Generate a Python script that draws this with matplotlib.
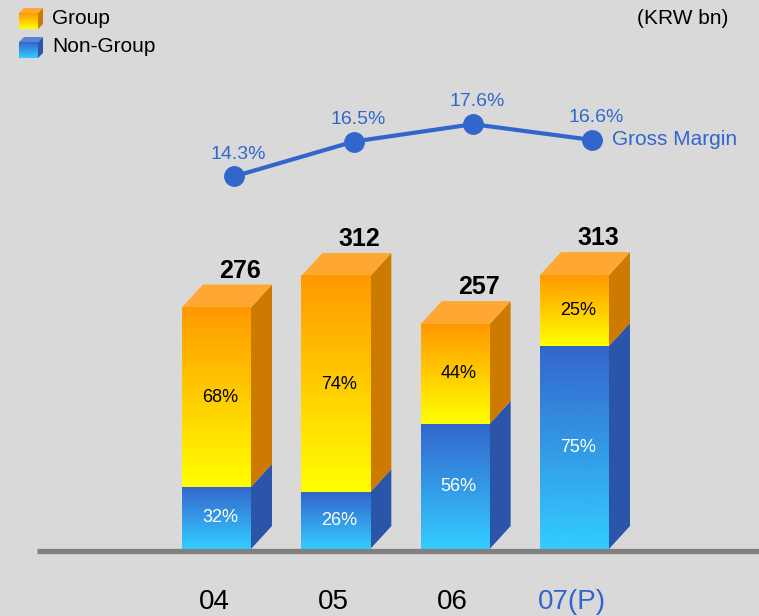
import numpy as np
import matplotlib
matplotlib.use("Agg")
import matplotlib.pyplot as plt
from matplotlib.patches import Polygon
from matplotlib.colors import to_rgb

plt.rcParams['font.family'] = ['Liberation Sans', 'DejaVu Sans']

# data
years = ['04', '05', '06', '07(P)']
totals = [276, 312, 257, 313]              # KRW bn
non_group = [71, 65, 143, 232]             # drawn height of Non-Group part
group_pct = ['68%', '74%', '44%', '25%']
non_group_pct = ['32%', '26%', '56%', '75%']
gross_margin = [14.3, 16.5, 17.6, 16.6]

BG = '#d9d9d9'
ORANGE_TOP, ORANGE_BOT = '#ff9900', '#ffff00'
BLUE_TOP, BLUE_BOT = '#3366cc', '#33ccff'
ORANGE_SIDE, ORANGE_LID = '#cc7a00', '#ffa733'
BLUE_SIDE = '#2b55a8'
LINE_BLUE = '#3366cc'

W, H = 759, 616
fig = plt.figure(figsize=(W / 100, H / 100), dpi=100, facecolor=BG)
ax = fig.add_axes([0, 0, 1, 1])
ax.set_facecolor(BG)

# pixel scale of the original: bar spacing 119.3 px, 0.875 px per KRW bn
XPX, YPX = 119.33, 0.875
XLIM = (-216.5 / XPX, (W - 216.5) / XPX)
YLIM = (-(H - 549) / YPX, 549 / YPX)
bar_w = 69 / XPX
dx, dy = 21 / XPX, 23 / YPX


def gradient(ax, x0, x1, y0, y1, c_bot, c_top, z):
    t = np.linspace(0, 1, 64)[:, None, None]
    img = (1 - t) * np.array(to_rgb(c_bot)) + t * np.array(to_rgb(c_top))
    ax.imshow(img, extent=[x0, x1, y0, y1], origin='lower', aspect='auto',
              interpolation='bilinear', zorder=z)


def cube(ax, x0, x1, y0, y1, ddx, ddy, c_bot, c_top, side, lid=None, z=3):
    ax.add_patch(Polygon([(x1, y0), (x1 + ddx, y0 + ddy), (x1 + ddx, y1 + ddy), (x1, y1)],
                         closed=True, facecolor=side, lw=0, zorder=z))
    if lid is not None:
        ax.add_patch(Polygon([(x0, y1), (x0 + ddx, y1 + ddy), (x1 + ddx, y1 + ddy), (x1, y1)],
                             closed=True, facecolor=lid, lw=0, zorder=z))
    gradient(ax, x0, x1, y0, y1, c_bot, c_top, z + 0.5)


x = np.arange(len(years))
for i in x:
    left, right = i - bar_w / 2, i + bar_w / 2
    ng, tot = non_group[i], totals[i]
    cube(ax, left, right, 0, ng, dx, dy, BLUE_BOT, BLUE_TOP, BLUE_SIDE, z=3)
    cube(ax, left, right, ng, tot, dx, dy, ORANGE_BOT, ORANGE_TOP, ORANGE_SIDE,
         lid=ORANGE_LID, z=4)
    ax.text(i + 0.03, ng + (tot - ng) / 2, group_pct[i], ha='center', va='center',
            fontsize=13, color='black', zorder=10)
    ax.text(i + 0.03, ng / 2, non_group_pct[i], ha='center', va='center',
            fontsize=13, color='white', zorder=10)
    ax.text(i + 0.2, tot + dy + 8, str(tot), ha='center', va='baseline',
            fontsize=18, fontweight='bold', color='black', zorder=10)
    ax.text(i - 0.02, -(609 - 549) / YPX, years[i], ha='center', va='baseline',
            fontsize=20, color=LINE_BLUE if i == 3 else 'black')

# baseline
ax.plot([(37 - 216.5) / XPX, XLIM[1]], [-2 / YPX, -2 / YPX], color='#808080',
        lw=3.8, solid_capstyle='butt', zorder=6)
ax.set_xlim(*XLIM)
ax.set_ylim(*YLIM)
ax.axis('off')

# gross margin line
ax2 = ax.twinx()
ax2.set_ylim(-13.53, 25.46)
ax2.axis('off')
gx = x + 0.15
ax2.plot(gx, gross_margin, color=LINE_BLUE, lw=3, marker='o', markersize=14,
         zorder=5)
for xi, v in zip(gx, gross_margin):
    ax2.annotate(f'{v:.1f}%', (xi, v), xytext=(3, 16), textcoords='offset points',
                 ha='center', va='center', fontsize=14, color=LINE_BLUE)
ax2.annotate('Gross Margin', (gx[-1], gross_margin[-1]), xytext=(14, 0),
             textcoords='offset points', ha='left', va='center', fontsize=15,
             color=LINE_BLUE)

# legend and unit, pixel coordinates
lg = fig.add_axes([0, 0, 1, 1])
lg.patch.set_alpha(0)
lg.set_xlim(0, W)
lg.set_ylim(H, 0)
lg.axis('off')
cube(lg, 19, 38, 29, 13, 5, -5, ORANGE_BOT, ORANGE_TOP, ORANGE_SIDE, lid=ORANGE_LID)
cube(lg, 19, 38, 58, 42, 5, -5, BLUE_BOT, BLUE_TOP, BLUE_SIDE, lid='#5a84d8')
lg.set_xlim(0, W)
lg.set_ylim(H, 0)
lg.text(52, 19, 'Group', ha='left', va='center', fontsize=15)
lg.text(52, 47, 'Non-Group', ha='left', va='center', fontsize=15)
lg.text(637, 18, '(KRW bn)', ha='left', va='center', fontsize=15)

fig.savefig('out.png', dpi=100, facecolor=BG)
